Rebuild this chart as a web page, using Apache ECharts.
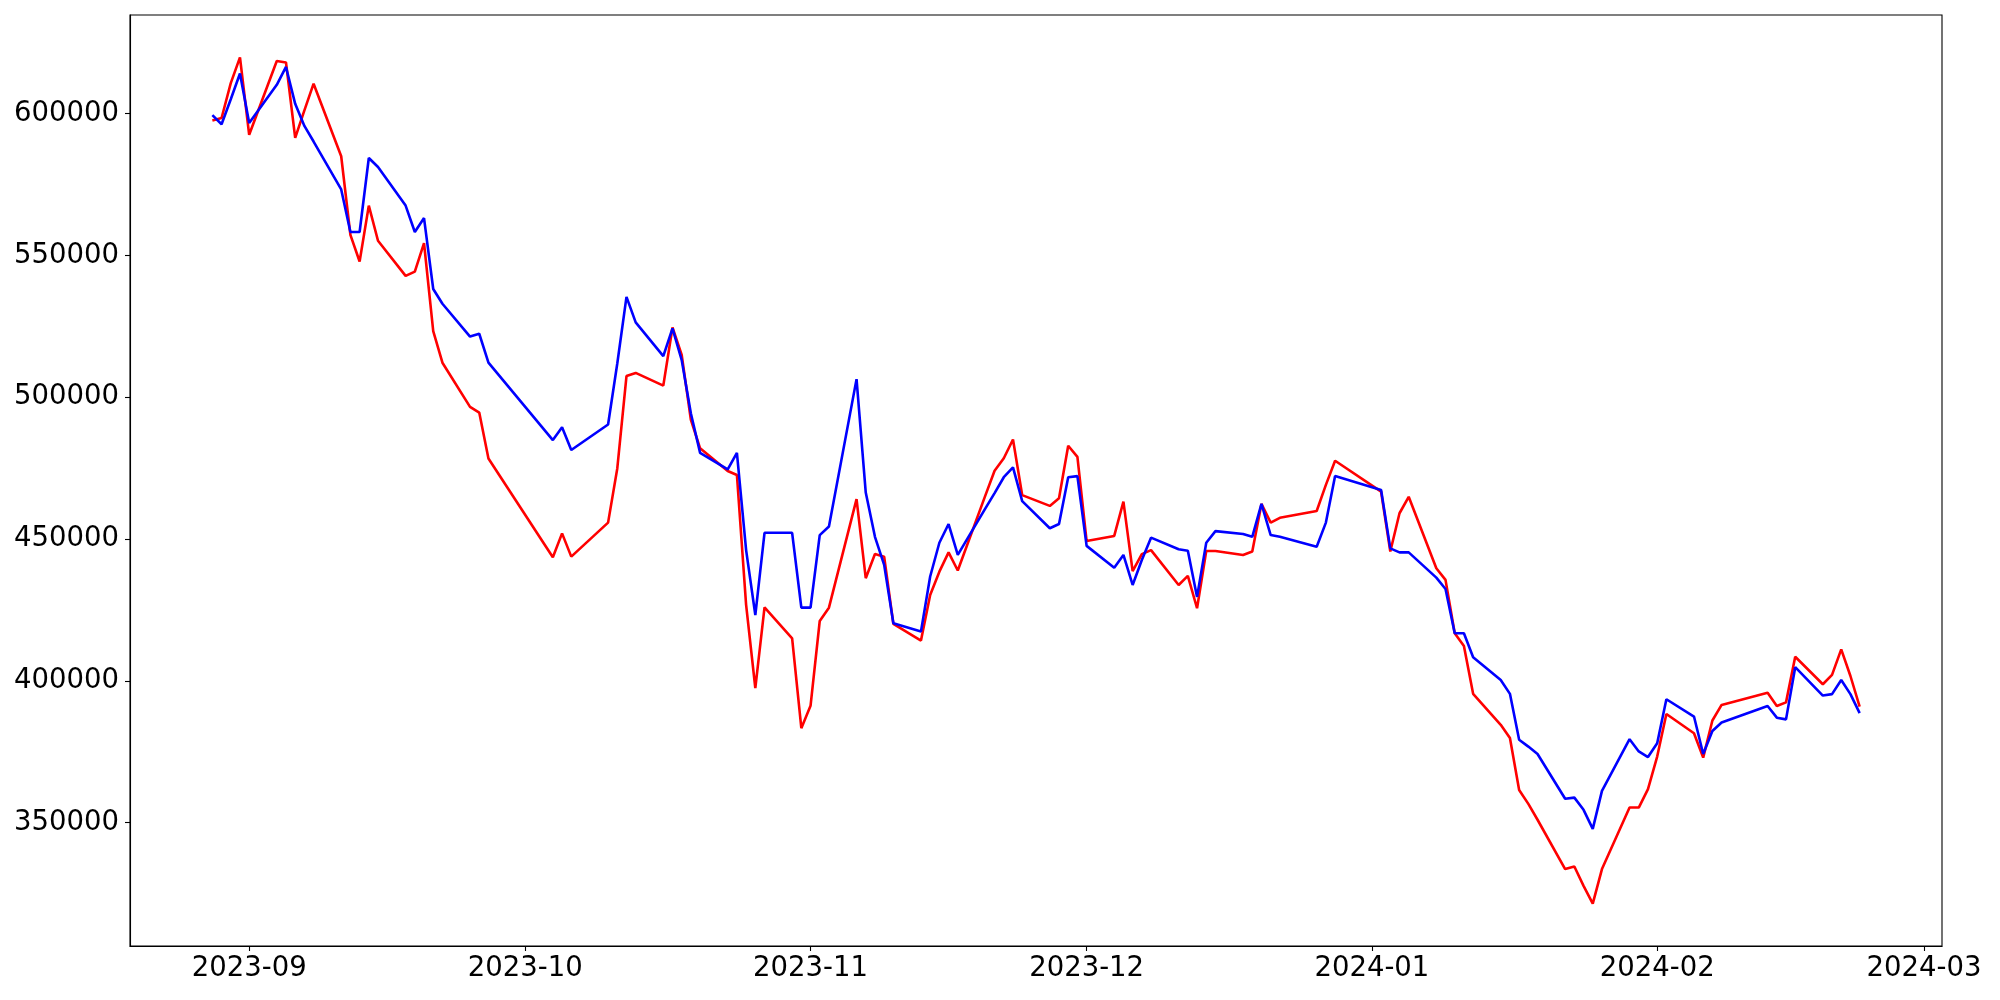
<!DOCTYPE html>
<html>
<head>
<meta charset="utf-8">
<script src="https://cdn.jsdelivr.net/npm/echarts@6/dist/echarts.min.js"></script>
<style>
  html, body { margin: 0; padding: 0; background: #ffffff; }
  #chart { width: 2000px; height: 1000px; }
</style>
</head>
<body>
<div id="chart"></div>
<script>
// ---- data ----
const dates = [
  '2023-08-28','2023-08-29','2023-08-30','2023-08-31',
  '2023-09-01','2023-09-04','2023-09-05','2023-09-06','2023-09-07','2023-09-08','2023-09-11','2023-09-12','2023-09-13','2023-09-14','2023-09-15','2023-09-18','2023-09-19','2023-09-20','2023-09-21','2023-09-22','2023-09-25','2023-09-26','2023-09-27',
  '2023-10-04','2023-10-05','2023-10-06','2023-10-10','2023-10-11','2023-10-12','2023-10-13','2023-10-16','2023-10-17','2023-10-18','2023-10-19','2023-10-20','2023-10-23','2023-10-24','2023-10-25','2023-10-26','2023-10-27','2023-10-30','2023-10-31',
  '2023-11-01','2023-11-02','2023-11-03','2023-11-06','2023-11-07','2023-11-08','2023-11-09','2023-11-10','2023-11-13','2023-11-14','2023-11-15','2023-11-16','2023-11-17','2023-11-20','2023-11-21','2023-11-22','2023-11-23','2023-11-24','2023-11-27','2023-11-28','2023-11-29','2023-11-30',
  '2023-12-01','2023-12-04','2023-12-05','2023-12-06','2023-12-07','2023-12-08','2023-12-11','2023-12-12','2023-12-13','2023-12-14','2023-12-15','2023-12-18','2023-12-19','2023-12-20','2023-12-21','2023-12-22','2023-12-26','2023-12-27','2023-12-28',
  '2024-01-02','2024-01-03','2024-01-04','2024-01-05','2024-01-08','2024-01-09','2024-01-10','2024-01-11','2024-01-12','2024-01-15','2024-01-16','2024-01-17','2024-01-18','2024-01-19','2024-01-22','2024-01-23','2024-01-24','2024-01-25','2024-01-26','2024-01-29','2024-01-30','2024-01-31',
  '2024-02-01','2024-02-02','2024-02-05','2024-02-06','2024-02-07','2024-02-08','2024-02-13','2024-02-14','2024-02-15','2024-02-16','2024-02-19','2024-02-20','2024-02-21','2024-02-22','2024-02-23'
];

const redValues = [
  597600, 598500, 610800, 619900,
  592600, 618600, 618100, 591500, 601200, 610600, 585000, 557300, 547900, 567600, 555200, 542800, 544300, 554400, 523300, 512200, 496600, 494600, 478400,
  443600, 452000, 443800, 455800, 474900, 507500, 508600, 504100, 524600, 514900, 492000, 482000, 474000, 472600, 426800, 397400, 425900, 415000, 383300,
  391200, 421100, 425800, 464100, 436200, 444700, 443800, 420100, 414200, 430300, 438500, 445300, 438900, 465400, 474100, 478500, 485100, 465500, 461700, 464400, 482900, 479000,
  449300, 451100, 463200, 438700, 444700, 446100, 433800, 437000, 425600, 445800, 445800, 444400, 445600, 462400, 455800, 457500, 459900, 469100, 477600,
  466700, 445600, 459100, 464900, 439700, 435600, 416800, 412300, 395400, 384500, 379800, 361500, 356600, 351000, 333600, 334500, 327700, 321400, 333600, 355300, 355300, 361800,
  373300, 388300, 381500, 372900, 386000, 391500, 395800, 391100, 392400, 408500, 398800, 402100, 411100, 401700, 390900
];

const blueValues = [
  599500, 596300, 605100, 614200,
  596700, 610200, 616500, 603500, 595700, 590200, 573300, 558300, 558300, 584400, 581200, 567600, 558300, 563200, 538200, 533000, 521400, 522400, 512200,
  484900, 489400, 481400, 490400, 511900, 535400, 526400, 514500, 524300, 513100, 494300, 480400, 474600, 480400, 446100, 423200, 452200, 452200, 425800,
  425800, 451400, 454400, 506400, 466400, 450800, 440900, 420300, 417400, 436800, 448700, 455300, 444400, 460800, 466200, 471800, 475300, 463400, 453800, 455300, 471800, 472200,
  447600, 439900, 444400, 433800, 442600, 450500, 446400, 445900, 429600, 448700, 452800, 451800, 450800, 462400, 451400, 450800, 447300, 455800, 472200,
  467300, 446700, 445300, 445300, 436400, 432400, 416800, 416800, 408300, 400300, 395400, 379200, 376800, 374200, 358400, 358800, 354500, 347800, 361200, 379400, 375100, 373100,
  378000, 393500, 387400, 374200, 382300, 385300, 391100, 387000, 386400, 404800, 394800, 395300, 400300, 395300, 388600
];

const yTicks = [350000, 400000, 450000, 500000, 550000, 600000];
const xTickLabels = ['2023-09', '2023-10', '2023-11', '2023-12', '2024-01', '2024-02', '2024-03'];

// ---- helpers ----
function toTs(s) {
  const p = s.split('-').map(Number);
  return Date.UTC(p[0], p[1] - 1, p[2] || 1);
}
const xs = dates.map(toTs);
const redData = xs.map((t, i) => [t, redValues[i]]);
const blueData = xs.map((t, i) => [t, blueValues[i]]);
const xTicks = xTickLabels.map(toTs);

const xLo = Math.min(...xs), xHi = Math.max(...xs);
const xPad = (xHi - xLo) * 0.05;
const allV = redValues.concat(blueValues);
const yLo = Math.min(...allV), yHi = Math.max(...allV);
const yPad = (yHi - yLo) * 0.05;

const FONT = 'DejaVu Sans';
const chart = echarts.init(document.getElementById('chart'), null, { renderer: 'canvas' });
chart.setOption({
  animation: false,
  backgroundColor: '#ffffff',
  grid: {
    left: 130, right: 58, top: 15, bottom: 54,
    show: true, borderColor: '#000000', borderWidth: 1.1, backgroundColor: 'transparent'
  },
  xAxis: {
    type: 'value',
    min: xLo - xPad,
    max: xHi + xPad,
    splitLine: { show: false },
    axisLine: { show: true, onZero: false, lineStyle: { color: '#000000', width: 1.1 } },
    axisTick: { show: true, inside: false, length: 5, customValues: xTicks, lineStyle: { color: '#000000', width: 1.1 } },
    axisLabel: {
      customValues: xTicks,
      hideOverlap: false,
      margin: 9,
      color: '#000000',
      fontFamily: FONT,
      fontSize: 27.5,
      formatter: function (v) {
        const d = new Date(v);
        return d.getUTCFullYear() + '-' + String(d.getUTCMonth() + 1).padStart(2, '0');
      }
    }
  },
  yAxis: {
    type: 'value',
    min: yLo - yPad,
    max: yHi + yPad,
    splitLine: { show: false },
    axisLine: { show: true, onZero: false, lineStyle: { color: '#000000', width: 1.1 } },
    axisTick: { show: true, inside: false, length: 5, customValues: yTicks, lineStyle: { color: '#000000', width: 1.1 } },
    axisLabel: {
      customValues: yTicks,
      margin: 11,
      color: '#000000',
      fontFamily: FONT,
      fontSize: 27.5,
      formatter: function (v) { return String(v); }
    }
  },
  series: [
    {
      name: 'red', type: 'line', data: redData, showSymbol: false, symbol: 'none',
      lineStyle: { color: '#ff0000', width: 2.6 }, itemStyle: { color: '#ff0000' }, z: 2
    },
    {
      name: 'blue', type: 'line', data: blueData, showSymbol: false, symbol: 'none',
      lineStyle: { color: '#0000ff', width: 2.6 }, itemStyle: { color: '#0000ff' }, z: 3
    }
  ]
});
</script>
</body>
</html>
